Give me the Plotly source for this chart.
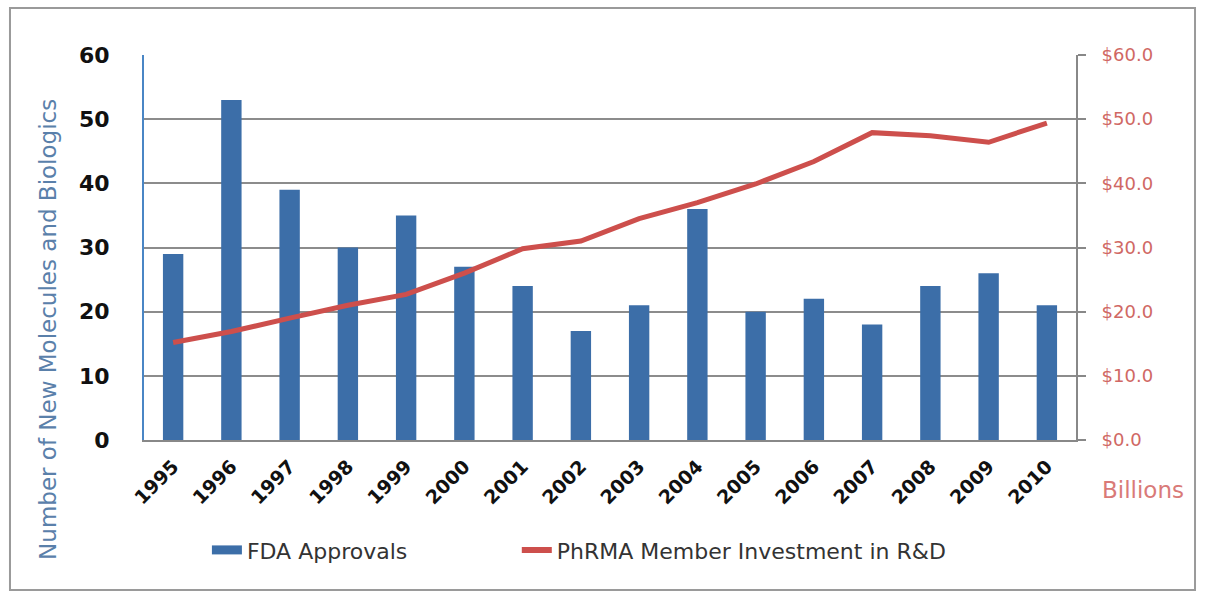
import plotly.graph_objects as go

years = ["1995", "1996", "1997", "1998", "1999", "2000", "2001", "2002",
         "2003", "2004", "2005", "2006", "2007", "2008", "2009", "2010"]
fda_approvals = [29, 53, 39, 30, 35, 27, 24, 17, 21, 36, 20, 22, 18, 24, 26, 21]
rd_investment = [15.2, 16.9, 19.0, 21.0, 22.7, 26.0, 29.8, 31.0, 34.5, 37.0,
                 39.9, 43.4, 47.9, 47.4, 46.4, 49.4]
left_ticks = [0, 10, 20, 30, 40, 50, 60]
right_ticks = [0, 10, 20, 30, 40, 50, 60]
right_tick_text = ["$%.1f" % v for v in right_ticks]

FONT = "'DejaVu Sans', sans-serif"
BAR_COLOR = "#3c6ea8"
LINE_COLOR = "#cd4f4c"

fig = go.Figure()
fig.add_trace(go.Bar(
    x=years, y=fda_approvals, name="FDA Approvals",
    marker=dict(color=BAR_COLOR, line=dict(width=0)),
    yaxis="y", showlegend=False,
))
fig.add_trace(go.Scatter(
    x=years, y=rd_investment, name="PhRMA Member Investment in R&D",
    mode="lines", line=dict(color=LINE_COLOR, width=5),
    yaxis="y2", showlegend=False,
))
# legend entries
fig.add_trace(go.Scatter(
    x=[None], y=[None], name="FDA Approvals", mode="lines",
    line=dict(color=BAR_COLOR, width=9), yaxis="y", legend="legend",
))
fig.add_trace(go.Scatter(
    x=[None], y=[None], name="PhRMA Member Investment in R&D", mode="lines",
    line=dict(color=LINE_COLOR, width=6), yaxis="y2", legend="legend2",
))

legend_font = dict(size=22, color="#333333", family=FONT)
fig.update_layout(
    width=1205, height=597,
    margin=dict(l=144, r=129, t=55, b=157),
    paper_bgcolor="white", plot_bgcolor="white",
    bargap=0.65,
    font=dict(family=FONT),
    showlegend=True,
    legend=dict(orientation="h", x=0.0675, y=-0.286, xanchor="left", yanchor="middle",
                font=legend_font, itemwidth=30),
    legend2=dict(orientation="h", x=0.400, y=-0.286, xanchor="left", yanchor="middle",
                 font=legend_font, itemwidth=30),
    xaxis=dict(
        type="category", tickangle=-45,
        tickfont=dict(size=19, color="#111111", family=FONT, weight="bold"),
        showline=True, linecolor="#888888", linewidth=2,
        showgrid=False, ticks="", ticklabelstandoff=6,
    ),
    yaxis=dict(
        range=[0, 60], tickvals=left_ticks,
        tickfont=dict(size=22, color="#111111", family=FONT, weight="bold"),
        showgrid=True, gridcolor="#8c8c8c", gridwidth=2,
        showline=True, linecolor="#4a86c5", linewidth=2,
        zeroline=False, ticks="", ticklabelstandoff=28,
    ),
    yaxis2=dict(
        range=[0, 60], tickvals=right_ticks, ticktext=right_tick_text,
        overlaying="y", side="right",
        tickfont=dict(size=18, color="#d06864", family=FONT),
        showgrid=False, showline=True, linecolor="#888888", linewidth=2,
        ticks="outside", ticklen=8, tickcolor="#888888", tickwidth=2,
        zeroline=False, ticklabelstandoff=12,
    ),
    shapes=[dict(type="rect", xref="paper", yref="paper",
                 x0=-0.1438, x1=1.1277, y0=-0.3896, y1=1.122,
                 line=dict(color="#9a9a9a", width=2))],
    annotations=[
        dict(text="Billions", xref="paper", yref="paper",
             x=1.0258, y=-0.13, xanchor="left", yanchor="middle",
             showarrow=False, font=dict(size=23, color="#d97a78", family=FONT)),
        dict(text="Number of New Molecules and Biologics", xref="paper", yref="paper",
             x=-0.103, y=0.286, xanchor="center", yanchor="middle", textangle=-90,
             showarrow=False, font=dict(size=23, color="#5a80aa", family=FONT)),
    ],
)

fig.write_html("out.html", config={"displayModeBar": False},
               post_script="document.body.style.margin='0';")
